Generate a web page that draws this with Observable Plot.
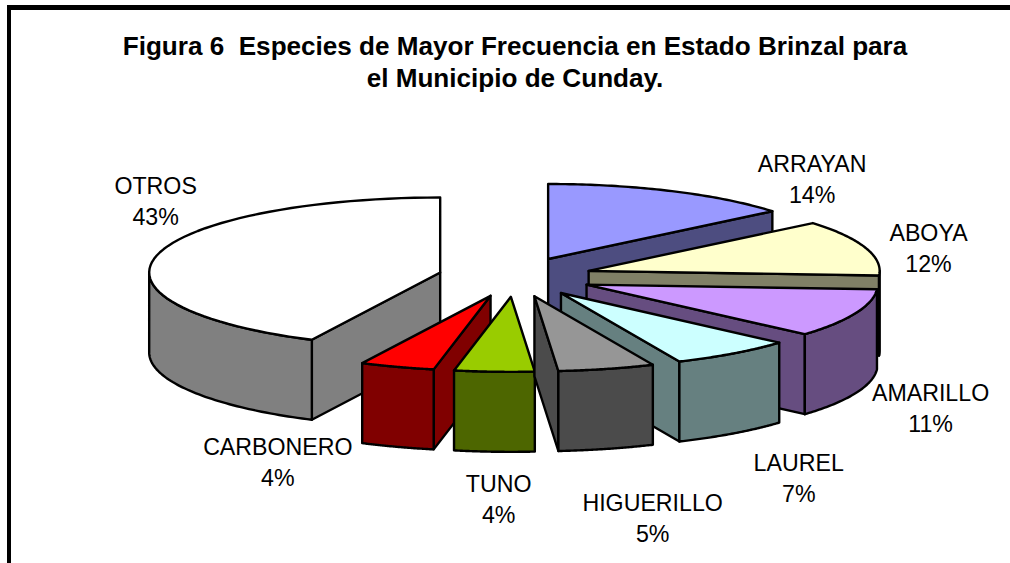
<!DOCTYPE html>
<html>
<head>
<meta charset="utf-8">
<script src="https://cdn.jsdelivr.net/npm/d3@7"></script>
<script src="https://cdn.jsdelivr.net/npm/@observablehq/plot@0.6"></script>
<style>
  html, body { margin: 0; padding: 0; background: #fff; }
  #page { position: relative; width: 1010px; height: 563px; overflow: hidden; font-family: "Liberation Sans", Arial, sans-serif; }
  #frame { position: absolute; left: 7px; top: 5px; right: 0; bottom: 0; border-top: 5px solid #000; border-left: 4.5px solid #000; pointer-events: none; z-index: 2; }
  #title { height: 100px; box-sizing: border-box; padding-top: 30px; padding-left: 20px; text-align: center; font-weight: bold; font-size: 26.1px; line-height: 32px; color: #000; white-space: nowrap; }
</style>
</head>
<body>
<div id="page">
  <div id="frame"></div>
  <div id="title">Figura 6&nbsp; Especies de Mayor Frecuencia en Estado Brinzal para<br>el Municipio de Cunday.</div>
  <div id="chart"></div>
</div>
<script>
// Data, clockwise from twelve o'clock
const species = ["ARRAYAN", "ABOYA", "AMARILLO", "LAUREL", "HIGUERILLO", "TUNO", "CARBONERO", "OTROS"];
const percentLabels = ["14%", "12%", "11%", "7%", "5%", "4%", "4%", "43%"];
const shares = [14, 12, 10.5, 6.83, 5.36, 4.44, 4.14, 42.73]; // as measured from slice angles
const topColors = ["#9999FF", "#FFFFCC", "#CC99FF", "#CCFFFF", "#969696", "#99CC00", "#FF0000", "#FFFFFF"];
const sideColors = ["#4D4D80", "#808066", "#664D80", "#668080", "#4B4B4B", "#4D6600", "#800000", "#808080"];
const drawOrder = ["OTROS", "ARRAYAN", "ABOYA", "AMARILLO", "LAUREL", "CARBONERO", "TUNO", "HIGUERILLO"];
// Label centres in pie units (1 = radius of the pie along each axis)
const labelU = [1.02, 1.42, 1.427, 0.974, 0.472, -0.057, -0.816, -1.236];
const labelV = [-1.32, -0.405, 1.73, 2.66, 3.19, 2.945, 2.445, -1.03];

const explode = 0.265;
const depth = 80 / 75;
const rad = d => d * Math.PI / 180;
const total = d3.sum(shares);

const rows = [];
const facesBySpecies = new Map();
let cum = 0;
species.forEach((name, i) => {
  const faces = [];
  const a0 = cum / total * 360;
  cum += shares[i];
  const a1 = cum / total * 360;
  const mid = (a0 + a1) / 2;
  const ox = explode * Math.sin(rad(mid));
  const oy = -explode * Math.cos(rad(mid));
  const rim = a => ({x: ox + Math.sin(rad(a)), y: oy - Math.cos(rad(a))});
  const down = p => ({x: p.x, y: p.y + depth});
  const apex = {x: ox, y: oy};
  const arc = (from, to) => d3.range(0, 61).map(k => rim(from + (to - from) * k / 60));

  // Radial walls
  if (Math.sin(rad(a1)) > 0.001) faces.push({color: sideColors[i], pts: [apex, rim(a1), down(rim(a1)), down(apex)]});
  if (Math.sin(rad(a0)) < -0.001) faces.push({color: sideColors[i], pts: [apex, rim(a0), down(rim(a0)), down(apex)]});
  // Outer wall: the part of the rim on the near half
  const f0 = Math.max(a0, 90), f1 = Math.min(a1, 270);
  if (f1 > f0) {
    const edge = arc(f0, f1);
    faces.push({color: sideColors[i], pts: [...edge, ...edge.slice().reverse().map(down)]});
  }
  // Top
  faces.push({color: topColors[i], pts: [apex, ...arc(a0, a1)]});
  facesBySpecies.set(name, faces);
  rows.push({label: name + "\n" + percentLabels[i], u: labelU[i], v: labelV[i]});
});
const faces = drawOrder.flatMap(n => facesBySpecies.get(n));

const cx = 514.8, rx = 291, cy = 276.5, ry = 75, titleH = 100, W = 1010, H = 463;
const chart = Plot.plot({
  width: W, height: H,
  margin: 0,
  x: {domain: [-cx / rx, (W - cx) / rx], range: [0, W], axis: null},
  y: {domain: [(titleH - cy) / ry, (titleH + H - cy) / ry], range: [0, H], axis: null},
  marks: [
    ...faces.map(f => Plot.line(f.pts, {x: "x", y: "y", curve: "linear-closed", fill: f.color, stroke: "#000", strokeWidth: 2.4, strokeLinejoin: "round"})),
    Plot.text(rows, {x: "u", y: "v", text: "label", fontSize: 23.2, lineHeight: 1.33, lineAnchor: "middle", fill: "#000", fontFamily: "Liberation Sans, Arial, sans-serif"})
  ]
});
document.getElementById("chart").appendChild(chart);
</script>
</body>
</html>
